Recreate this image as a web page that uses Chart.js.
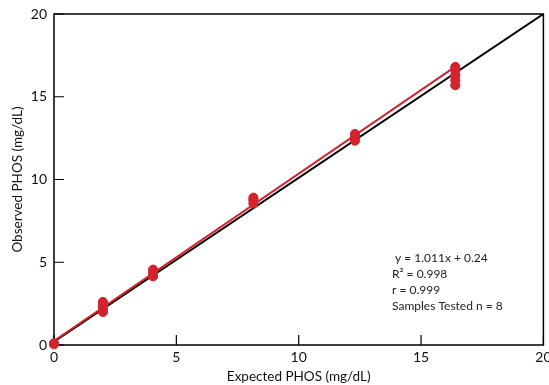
<!DOCTYPE html>
<html><head><meta charset="utf-8">
<script src="https://cdn.jsdelivr.net/npm/chart.js@4/dist/chart.umd.min.js"></script>
<style>html,body{margin:0;padding:0;background:#fff}#wrap{width:549px;height:385px}</style>
</head><body><div id="wrap"><canvas id="c" width="549" height="385"></canvas></div>
<script>
// Data
const expectedX = [0, 0, 2.0, 2.0, 2.0, 2.0, 4.05, 4.05, 4.05, 8.15, 8.15, 8.15, 12.3, 12.3, 12.3, 16.4, 16.4, 16.4, 16.4, 16.4];
const observedY = [0.05, 0.1, 2.0, 2.2, 2.4, 2.6, 4.15, 4.35, 4.55, 8.55, 8.75, 8.9, 12.35, 12.55, 12.75, 15.7, 16.0, 16.3, 16.6, 16.8];
const regressionX = [0, 16.4];
const regressionY = [0.24, 16.82];
const identityX = [0, 20];
const identityY = [0.2, 20];
const tickValues = [0, 5, 10, 15, 20];
const statsText = ["y = 1.011x + 0.24", "R² = 0.998", "r = 0.999", "Samples Tested n = 8"];

const FONT = "Lato, 'Open Sans', sans-serif";
const RED = '#d2232f';

const toPts = (xs, ys) => xs.map((x, i) => ({x, y: ys[i]}));

const framePlugin = {
  id: 'frame',
  beforeDatasetsDraw(chart) {
    const {ctx, chartArea: a, scales: {x, y}} = chart;
    ctx.save();
    ctx.strokeStyle = '#000';
    ctx.lineWidth = 1.5;
    ctx.strokeRect(a.left, a.top, a.right - a.left, a.bottom - a.top);
    ctx.lineWidth = 1.2;
    ctx.beginPath();
    tickValues.forEach(v => {
      const px = x.getPixelForValue(v);
      ctx.moveTo(px, a.bottom); ctx.lineTo(px, a.bottom - 10);
      const py = y.getPixelForValue(v);
      ctx.moveTo(a.left, py); ctx.lineTo(a.left + 10, py);
    });
    ctx.stroke();
    ctx.fillStyle = '#222';
    ctx.font = "12px " + FONT;
    ctx.textBaseline = 'middle';
    ctx.textAlign = 'left';
    statsText.forEach((t, i) => ctx.fillText(t, i === 0 ? 395 : 392, 258 + i * 16));
    ctx.restore();
  }
};

new Chart(document.getElementById('c'), {
  type: 'scatter',
  data: {
    datasets: [
      {data: toPts(expectedX, observedY), backgroundColor: RED, borderColor: RED, pointRadius: 4.6, pointHoverRadius: 4.6, clip: false, order: 0},
      {data: toPts(regressionX, regressionY), showLine: true, borderColor: RED, borderWidth: 2, pointRadius: 0, order: 1},
      {data: toPts(identityX, identityY), showLine: true, borderColor: '#000', borderWidth: 2, pointRadius: 0, order: 2}
    ]
  },
  options: {
    responsive: false,
    animation: false,
    events: [],
    layout: {padding: {top: 14, right: 3, left: 0, bottom: 0}},
    plugins: {legend: {display: false}, tooltip: {enabled: false}},
    scales: {
      x: {
        type: 'linear', min: 0, max: 20,
        afterBuildTicks: s => { s.ticks = tickValues.map(v => ({value: v})); },
        afterFit: s => { s.height = 40; s.paddingLeft = 0; s.paddingRight = 0; },
        grid: {display: false, drawTicks: false},
        border: {display: false},
        ticks: {font: {size: 14, family: FONT}, color: '#111', padding: 4, maxRotation: 0},
        title: {display: true, text: 'Expected PHOS (mg/dL)', font: {size: 13.5, family: FONT}, color: '#111', padding: {top: 2, bottom: 0}}
      },
      y: {
        type: 'linear', min: 0, max: 20,
        afterBuildTicks: s => { s.ticks = tickValues.map(v => ({value: v})); },
        afterFit: s => { s.width = 54; s.paddingTop = 0; s.paddingBottom = 0; },
        grid: {display: false, drawTicks: false},
        border: {display: false},
        ticks: {font: {size: 14, family: FONT}, color: '#111', padding: 7},
        title: {display: true, text: 'Observed PHOS (mg/dL)', font: {size: 13.5, family: FONT}, color: '#111', padding: {top: 10, bottom: 2}}
      }
    }
  },
  plugins: [framePlugin]
});
</script></body></html>
